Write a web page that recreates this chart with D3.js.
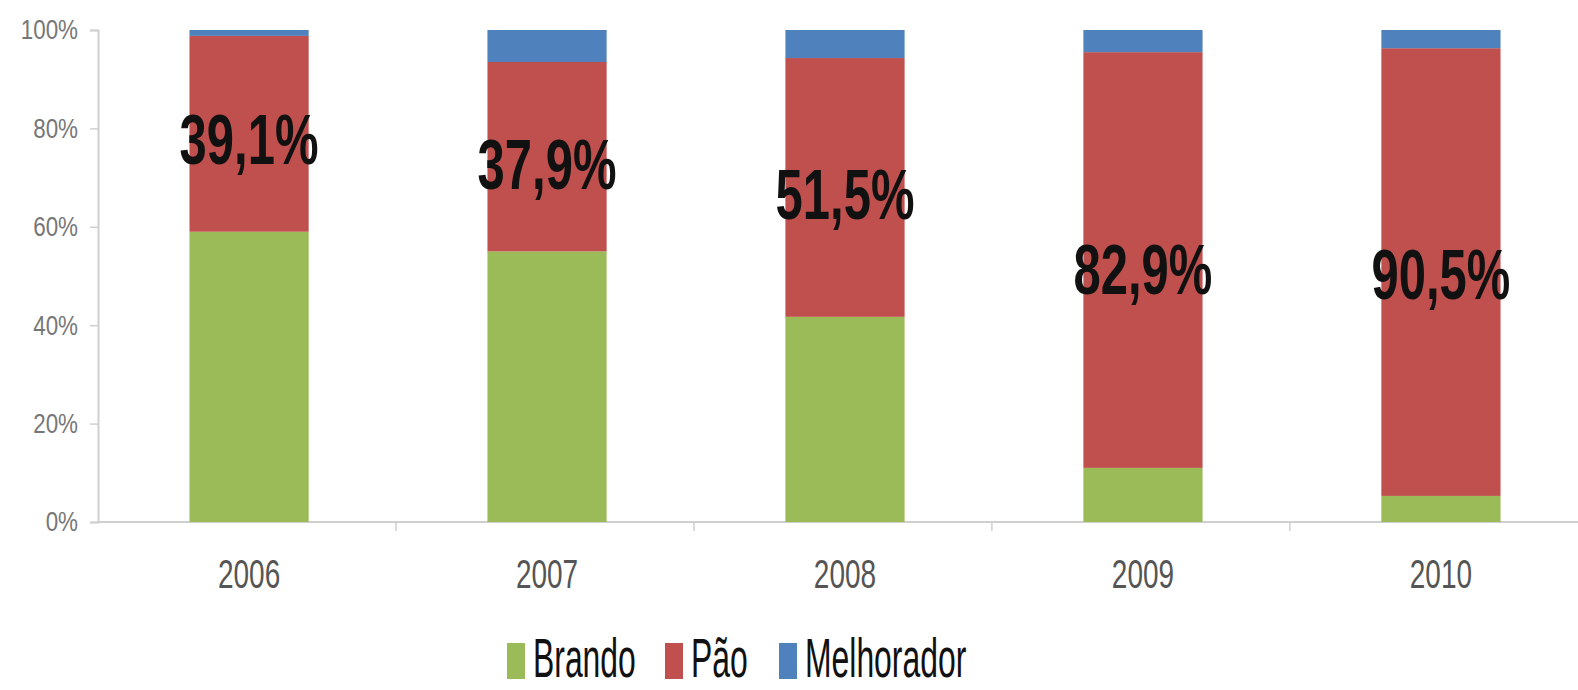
<!DOCTYPE html>
<html><head><meta charset="utf-8">
<script src="https://cdn.jsdelivr.net/npm/d3@7"></script>
<style>body{margin:0;background:#fff}svg{display:block}</style>
</head><body>
<svg id="c" width="1578" height="690"></svg>
<script>
const years = ["2006","2007","2008","2009","2010"];
const brando = [59.0, 55.0, 41.7, 11.0, 5.3];
const pao = [39.8, 38.5, 52.6, 84.5, 91.0];
const melhorador = [1.2, 6.5, 5.7, 4.5, 3.7];
const labelTexts = ["39,1%","37,9%","51,5%","82,9%","90,5%"];
const labelValues = [77.8, 72.6, 66.5, 51.2, 50.2];
const seriesNames = ["Brando","Pão","Melhorador"];
const tickValues = [0,20,40,60,80,100];
const colors = {"Brando":"#9BBB59","Pão":"#C0504D","Melhorador":"#4F81BD"};

const svg = d3.select("#c");
const L = 98, R = 1592, T = 30, B = 522;
const x = d3.scaleBand().domain(years).range([L, R]).paddingInner(0.6).paddingOuter(0.307);
const y = d3.scaleLinear().domain([0,100]).range([B, T]);

const rows = years.map((yr,i)=>({year:yr, "Brando":brando[i], "Pão":pao[i], "Melhorador":melhorador[i]}));
const stack = d3.stack().keys(seriesNames)(rows);

// y axis
const gy = svg.append("g").attr("transform",`translate(${L},0)`)
  .call(d3.axisLeft(y).tickValues(tickValues).tickFormat(d=>d+"%").tickSize(8).tickPadding(0));
gy.select(".domain").attr("stroke","#cfcfcf").attr("stroke-width",2);
gy.selectAll(".tick line").attr("stroke","#cfcfcf").attr("stroke-width",1.5);
gy.selectAll(".tick text").attr("x",null).attr("text-anchor","end")
  .attr("transform","translate(-20,0) scale(0.8,1)")
  .attr("font-family","Liberation Sans, Arial, sans-serif")
  .attr("font-size",28).attr("fill","#777");

// x axis
const xb = d3.scaleLinear().domain([0,5]).range([L, L + 5*x.step()]);
const gx = svg.append("g").attr("transform",`translate(0,${B})`);
gx.append("line").attr("x1",L).attr("x2",1578).attr("y1",0).attr("y2",0).attr("stroke","#cfcfcf").attr("stroke-width",2);
gx.selectAll("line.t").data(d3.range(1,5)).enter().append("line")
  .attr("x1",d=>xb(d)).attr("x2",d=>xb(d)).attr("y1",0).attr("y2",9).attr("stroke","#cfcfcf").attr("stroke-width",1.5);
gx.selectAll("text").data(years).enter().append("text")
  .attr("transform",d=>`translate(${x(d)+x.bandwidth()/2},66) scale(0.7,1)`)
  .attr("text-anchor","middle")
  .attr("font-family","Liberation Sans, Arial, sans-serif").attr("font-size",40).attr("fill","#555")
  .text(d=>d);

// bars
svg.append("g").selectAll("g").data(stack).enter().append("g")
  .attr("fill",d=>colors[d.key])
  .selectAll("rect").data(d=>d).enter().append("rect")
  .attr("x",d=>x(d.data.year)).attr("width",x.bandwidth())
  .attr("y",d=>y(d[1])).attr("height",d=>y(d[0])-y(d[1]));

// labels
svg.append("g").selectAll("text").data(years).enter().append("text")
  .attr("transform",(d,i)=>`translate(${x(d)+x.bandwidth()/2},${y(labelValues[i])}) scale(0.7,1)`)
  .attr("text-anchor","middle").attr("dominant-baseline","central")
  .attr("font-family","Liberation Sans, Arial, sans-serif").attr("font-weight","bold")
  .attr("font-size",70).attr("fill","#111")
  .text((d,i)=>labelTexts[i]);

// legend
const lg = svg.append("g");
const legX = [507, 665, 779];
seriesNames.forEach((n,i)=>{
  lg.append("rect").attr("x",legX[i]).attr("y",643).attr("width",18).attr("height",36).attr("fill",colors[n]);
  lg.append("text").attr("transform",`translate(${legX[i]+26},677) scale(0.58,1)`)
    .attr("font-family","Liberation Sans, Arial, sans-serif").attr("font-size",55).attr("fill","#111")
    .text(n);
});
</script>
</body></html>
